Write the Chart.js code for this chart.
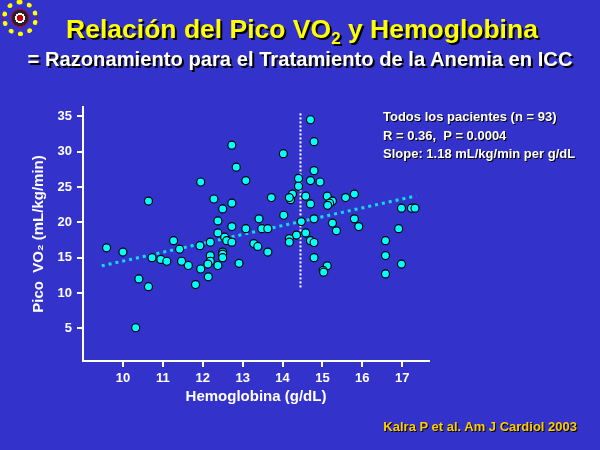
<!DOCTYPE html>
<html>
<head>
<meta charset="utf-8">
<script src="https://cdn.jsdelivr.net/npm/chart.js@4/dist/chart.umd.min.js"></script>
<style>
  body { margin: 0; background: #3333cc; }
  #wrap { position: relative; width: 600px; height: 450px; overflow: hidden; font-family: "Liberation Sans", Arial, sans-serif; font-weight: bold; }
  #c { position: absolute; left: 0; top: 0; }
  .txt { position: absolute; white-space: nowrap; }
  #title { left: 2px; width: 600px; text-align: center; top: 14px; font-size: 26.5px; color: #ffff00; text-shadow: 2px 2px 0 #000; }
  #title sub { font-size: 17px; vertical-align: -6px; }
  #subtitle { left: 0; width: 600px; text-align: center; top: 48px; font-size: 20.2px; color: #fff; text-shadow: 2px 2px 0 #000; }
  #stats { left: 383px; top: 108px; font-size: 13px; color: #fff; line-height: 18.5px; text-shadow: 1px 1px 0 #000; }
  #cite { right: 23px; top: 419px; font-size: 13px; color: #ffcc00; text-shadow: 1px 1px 0 #000; }
  #logo { position: absolute; left: 2px; top: 0px; width: 26px; height: 26px; border-radius: 50%; border: 5px dotted #ffff00;
          background: radial-gradient(circle at 50% 50%, #c00 0 3px, #fff 3px 5px, #223 5px 8px, #c00 8px 9px, #3333cc 9px); }
</style>
</head>
<body>
<div id="wrap">
  <canvas id="c" width="600" height="450"></canvas>
  <div id="logo"></div>
  <div id="title" class="txt">Relación del Pico VO<sub>2</sub> y Hemoglobina</div>
  <div id="subtitle" class="txt">= Razonamiento para el Tratamiento de la Anemia en ICC</div>
  <div id="stats" class="txt">Todos los pacientes (n = 93)<br>R = 0.36,&nbsp; P = 0.0004<br>Slope: 1.18 mL/kg/min per g/dL</div>
  <div id="cite" class="txt">Kalra P et al. Am J Cardiol 2003</div>
</div>
<script>
// hemoglobina (g/dL) y pico VO2 (mL/kg/min) de cada paciente
const hgb = [12.73, 12.84, 13.08, 11.95, 10.64, 12.28, 12.73, 12.5, 12.38, 12.73,
  13.08, 13.41, 12.38, 12.55, 12.6, 12.73, 12.19, 11.93, 11.27, 11.42,
  13.28, 13.38, 9.59, 10.0, 10.73, 10.95, 11.1, 11.47, 11.64, 12.19,
  12.5, 12.5, 12.5, 12.19, 12.13, 12.38, 11.95, 12.91, 12.14, 11.82,
  10.4, 10.64, 10.32, 14.7, 14.79, 14.02, 14.79, 14.4, 14.4, 14.7,
  14.94, 14.25, 14.2, 14.17, 13.72, 14.58, 14.7, 15.12, 15.25, 15.18,
  15.13, 15.58, 15.8, 16.98, 17.23, 17.32, 14.03, 14.47, 14.79, 15.25,
  15.8, 15.91, 15.35, 16.91, 13.48, 13.63, 14.58, 14.35, 14.17, 14.17,
  14.7, 14.79, 13.63, 16.58, 16.58, 16.98, 16.58, 14.79, 15.12, 15.02, 15.03];
const vo2 = [30.9, 27.8, 25.9, 25.7, 23.0, 23.3, 22.7, 21.9, 20.2, 19.4,
  19.1, 20.5, 18.5, 17.9, 17.4, 17.2, 17.2, 16.7, 17.4, 16.2,
  17.0, 16.6, 16.4, 15.8, 15.0, 14.75, 14.5, 14.5, 13.9, 15.3,
  15.8, 15.5, 15.0, 14.5, 14.1, 13.9, 13.4, 14.2, 12.3, 11.2,
  12.0, 10.9, 5.1, 34.5, 31.4, 29.7, 27.3, 26.2, 25.1, 25.9,
  25.7, 24.0, 23.2, 23.5, 23.5, 23.7, 22.6, 23.7, 23.0, 22.7,
  22.4, 23.5, 24.0, 22.0, 22.0, 22.0, 21.0, 20.1, 20.5, 19.9,
  20.5, 19.4, 18.8, 19.1, 19.1, 19.1, 18.5, 18.2, 17.7, 17.2,
  17.4, 17.15, 15.8, 17.4, 15.3, 14.1, 12.7, 15.0, 13.85, 13.2, 12.95];

// recta de regresion
const trendX = [9.47, 17.35];
const trendY = [13.85, 23.74];

// linea vertical punteada
const cutX = [14.45, 14.45];
const cutY = [10.8, 35.4];

const xTicks = [10, 11, 12, 13, 14, 15, 16, 17];
const yTicks = [5, 10, 15, 20, 25, 30, 35];

function toPoints(xs, ys) {
    let pts = [];
    for (let i = 0; i < xs.length; i++) {
        pts.push({x: xs[i], y: ys[i]});
    }
    return pts;
}

const tickFont = {family: '"Liberation Sans", Arial, sans-serif', size: 13, weight: 'bold'};
const titleFont = {family: '"Liberation Sans", Arial, sans-serif', size: 15, weight: 'bold'};

const config = {
    type: 'scatter',
    data: {
        datasets: [{
                data: toPoints(hgb, vo2),
                backgroundColor: '#00ffff',
                borderColor: '#000',
                borderWidth: 1.2,
                pointRadius: 4,
                pointHoverRadius: 4
            }, {
                type: 'line',
                data: toPoints(trendX, trendY),
                borderColor: '#11ddee',
                borderWidth: 3,
                borderDash: [3, 4],
                pointRadius: 0,
                fill: false
            }, {
                type: 'line',
                data: toPoints(cutX, cutY),
                borderColor: '#fff',
                borderWidth: 2,
                borderDash: [2, 2],
                pointRadius: 0,
                fill: false
            }]
    },
    options: {
        responsive: false,
        animation: false,
        events: [],
        layout: {padding: {left: 0, top: 107, right: 171, bottom: 0}},
        plugins: {legend: {display: false}, tooltip: {enabled: false}},
        scales: {
            x: {
                type: 'linear',
                min: 9.0,
                max: 17.67,
                afterFit: (s) => { s.height = 89; },
                afterBuildTicks: (s) => { s.ticks = xTicks.map(v => ({value: v})); },
                grid: {drawOnChartArea: false, color: '#fff', tickLength: 6, lineWidth: 2},
                border: {color: '#fff', width: 2},
                ticks: {color: '#fff', font: tickFont, padding: 4, maxRotation: 0},
                title: {display: true, text: 'Hemoglobina (g/dL)', color: '#fff', font: titleFont, padding: {bottom: 44}}
            },
            y: {
                type: 'linear',
                min: 0.4,
                max: 36.3,
                afterFit: (s) => { s.width = 83; },
                afterBuildTicks: (s) => { s.ticks = yTicks.map(v => ({value: v})); },
                grid: {drawOnChartArea: false, color: '#fff', tickLength: 6, lineWidth: 2},
                border: {color: '#fff', width: 2},
                ticks: {color: '#fff', font: tickFont, padding: 5},
                title: {display: true, text: 'Pico  VO₂ (mL/kg/min)', color: '#fff', font: titleFont, padding: {top: 30}}
            }
        }
    }
};

new Chart(document.getElementById('c').getContext('2d'), config);
</script>
</body>
</html>
